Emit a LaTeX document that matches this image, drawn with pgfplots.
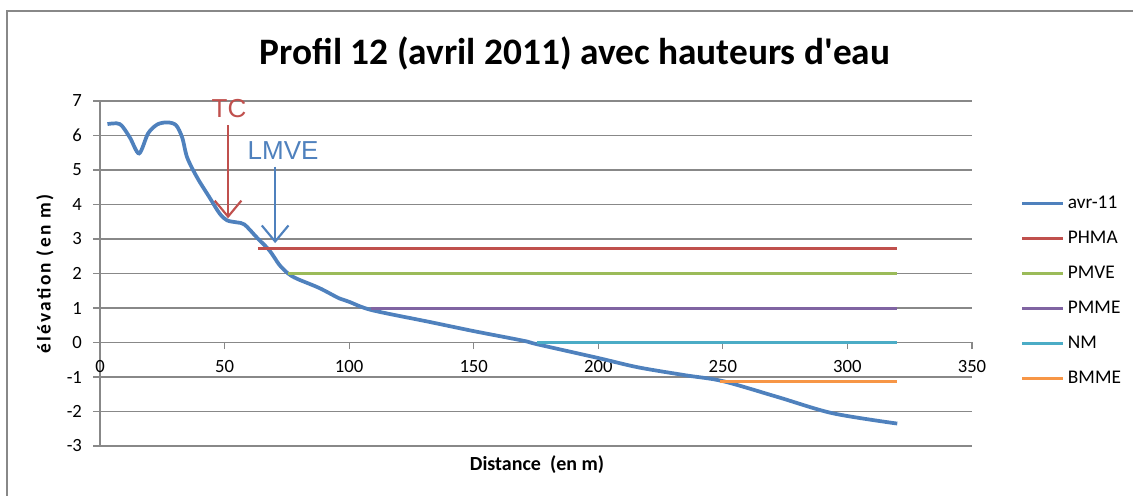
\documentclass[border=0pt]{standalone}
\usepackage{fontspec}
\setmainfont{Carlito}
\newfontfamily\titlefont{Carlito}[Ligatures=TeXOff]
\newfontfamily\spacedfont{Carlito}[LetterSpace=12]
\newfontfamily\arialfont{Liberation Sans}
\usepackage{pgfplots}
\pgfplotsset{compat=1.18}
\usetikzlibrary{arrows.meta}
\definecolor{cBlue}{HTML}{4F81BD}
\definecolor{cRed}{HTML}{C0504D}
\definecolor{cGreen}{HTML}{9BBB59}
\definecolor{cPurple}{HTML}{8064A2}
\definecolor{cCyan}{HTML}{4BACC6}
\definecolor{cOrange}{HTML}{F79646}
\definecolor{cGrid}{HTML}{888888}
\begin{document}
\begin{tikzpicture}
\useasboundingbox (0,0) rectangle (849.75pt,372pt);
\draw[cGrid, line width=1.2pt] (5.25pt,0) -- (5.25pt,363.75pt) -- (849.75pt,363.75pt);
\node[font=\titlefont\fontsize{28}{33}\selectfont\bfseries] at (431.25pt,332pt) {Profil 12 (avril 2011) avec hauteurs d'eau};
\node[font=\spacedfont\fontsize{14.5}{17}\selectfont\bfseries, rotate=90] at (33.75pt,166.5pt) {élévation (en m)};
\node[font=\fontsize{15}{18}\selectfont\bfseries] at (402.75pt,23.25pt) {Distance\ \ (en m)};
\begin{axis}[
  at={(75pt,37.5pt)}, anchor=south west,
  scale only axis, width=654pt, height=258.75pt,
  xmin=0, xmax=350, ymin=-3, ymax=7,
  axis x line*=middle, axis y line*=left,
  hide obscured x ticks=false, hide obscured y ticks=false,
  axis line style={cGrid, line width=0.8pt},
  xtick={0,50,...,350}, ytick={-3,-2,...,7},
  tick align=outside, major tick length=5pt,
  tick style={cGrid, line width=0.8pt},
  ymajorgrids, grid style={cGrid, line width=0.8pt},
  tick label style={font=\fontsize{14}{16}\selectfont},
  xticklabel style={yshift=-5pt},
  yticklabel style={xshift=-5pt},
  /pgf/number format/assume math mode=true,
  clip=false,
  legend style={at={(1.055,0.449)}, anchor=west, draw=none, fill=none,
    font=\fontsize{14.5}{17}\selectfont, inner sep=0pt, row sep=11.5pt,
    /tikz/every even column/.append style={column sep=1pt}},
  legend cell align=left,
  legend image code/.code={\draw[#1] (0pt,0pt) -- (31pt,0pt);},
]
\addplot[cBlue, line width=2.8pt, smooth, tension=0.5] coordinates {
(3,6.33) (8,6.33) (12,5.94) (15.7,5.48) (19.3,6.06) (23,6.32) (27,6.38)
(30.5,6.3) (33,5.94) (35,5.36) (39,4.78) (44,4.2) (48,3.74) (51,3.54)
(55,3.48) (58,3.42) (63,3.04) (68,2.67) (72,2.25) (75.5,2.0) (79,1.85)
(88,1.58) (96,1.28) (100,1.18) (109,0.94) (132,0.6) (150,0.33) (170,0.05)
(175.4,-0.05) (200,-0.45) (216,-0.72) (235,-0.95) (250,-1.12) (272,-1.58)
(294,-2.05) (320,-2.35)};
\addlegendentry{avr-11}
\addplot[cRed, line width=2.4pt] coordinates {(63.4,2.72) (320,2.72)};
\addlegendentry{PHMA}
\addplot[cGreen, line width=2.4pt] coordinates {(75.5,2.0) (320,2.0)};
\addlegendentry{PMVE}
\addplot[cPurple, line width=2.4pt] coordinates {(108.7,0.98) (320,0.98)};
\addlegendentry{PMME}
\addplot[cCyan, line width=2.4pt] coordinates {(175.4,0) (320,0)};
\addlegendentry{NM}
\addplot[cOrange, line width=2.4pt] coordinates {(249,-1.13) (320,-1.13)};
\addlegendentry{BMME}
\draw[cRed, line width=1.6pt, -{Straight Barb[length=12pt,width=20pt,line width=1.6pt]}] (axis cs:51.4,6.3) -- (axis cs:51.4,3.6);
\draw[cBlue, line width=1.6pt, -{Straight Barb[length=12pt,width=20pt,line width=1.6pt]}] (axis cs:70.3,5.1) -- (axis cs:70.3,2.88);
\node[cRed, font=\arialfont\fontsize{19.5}{22}\selectfont] at (axis cs:51.8,6.78) {TC};
\node[cBlue, font=\arialfont\fontsize{19.5}{22}\selectfont] at (axis cs:73.5,5.57) {LMVE};
\end{axis}
\end{tikzpicture}
\end{document}
